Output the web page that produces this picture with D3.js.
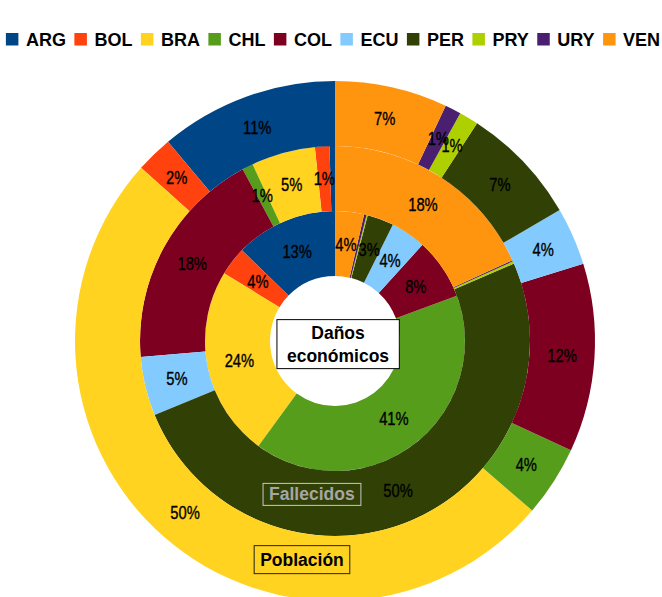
<!DOCTYPE html>
<html>
<head>
<meta charset="utf-8">
<script src="https://cdn.jsdelivr.net/npm/d3@7"></script>
<style>
  body { margin: 0; background: #fff; }
  svg { display: block; }
</style>
</head>
<body>
<svg width="662" height="597"></svg>
<script>
// paises (orden del grafico)
let paises = ["ARG", "BOL", "BRA", "CHL", "COL", "ECU", "PER", "PRY", "URY", "VEN"];
let colores = ["#004586", "#ff420e", "#ffd320", "#579d1c", "#7e0021", "#83caff", "#314004", "#aecf00", "#4b1f6f", "#ff950e"];

// porcentajes
let danos_economicos = [12.7, 3.6, 23.7, 40.7, 7.6, 4.4, 3.3, 0.15, 0.3, 3.6];
let fallecidos = [0.45, 1.2, 5.3, 0.9, 18.45, 4.9, 50.3, 0.2, 0.1, 18.2];
let poblacion = [11.1, 2.3, 50.3, 4.4, 11.7, 3.6, 7.4, 1.2, 1.0, 7.0];

let series = [
  {nombre: "Daños económicos", valores: danos_economicos},
  {nombre: "Fallecidos", valores: fallecidos},
  {nombre: "Población", valores: poblacion}
];

let svg = d3.select("svg");
let cx = 335, cy = 341;
let r_hueco = 65, ancho_anillo = 65;

let fill = d3.scaleOrdinal().domain(paises).range(colores);

let pie = d3.pie()
  .sort(null)
  .value(d => d.valor)
  .startAngle(0)
  .endAngle(-2 * Math.PI);

let chart = svg.append("g").attr("transform", "translate(" + cx + "," + cy + ")");

series.forEach((s, i) => {
  let arc = d3.arc()
    .innerRadius(r_hueco + i * ancho_anillo)
    .outerRadius(r_hueco + (i + 1) * ancho_anillo);

  let total = d3.sum(s.valores);
  let datos = pie(paises.map((p, j) => ({pais: p, valor: s.valores[j]})));

  let anillo = chart.append("g").attr("class", "anillo");

  anillo.selectAll("path")
    .data(datos)
    .join("path")
      .attr("d", arc)
      .attr("fill", d => fill(d.data.pais));

  // etiquetas estrechas (no hay Liberation Sans Narrow, se comprime)
  anillo.selectAll("text")
    .data(datos.filter(d => d.data.valor / total * 100 >= 0.5))
    .join("text")
      .attr("transform", d => "translate(" + arc.centroid(d) + ") scale(0.82,1)")
      .attr("text-anchor", "middle")
      .attr("dy", "0.36em")
      .attr("font-family", "'Liberation Sans', Arial, sans-serif")
      .attr("font-size", 18)
      .attr("fill", "#000")
      .attr("stroke", "#000")
      .attr("stroke-width", 0.35)
      .text(d => Math.round(d.data.valor / total * 100) + "%");
});

// etiquetas de las series
function etiqueta_serie(nombre, lineas, x, y, estilo) {
  let g = chart.append("g").attr("transform", "translate(" + x + "," + y + ")");
  let t = g.append("text")
    .attr("text-anchor", "middle")
    .attr("font-family", "'Liberation Sans', Arial, sans-serif")
    .attr("font-weight", "bold")
    .attr("font-size", 17.5)
    .attr("fill", estilo.texto);
  lineas.forEach((l, i) => {
    t.append("tspan")
      .attr("x", 0)
      .attr("y", (i - (lineas.length - 1) / 2) * 23)
      .attr("dy", "0.35em")
      .text(l);
  });
  let bb = t.node().getBBox();
  g.insert("rect", "text")
    .attr("x", bb.x - estilo.px)
    .attr("y", bb.y - estilo.py)
    .attr("width", bb.width + 2 * estilo.px)
    .attr("height", bb.height + 2 * estilo.py)
    .attr("fill", estilo.fondo)
    .attr("stroke", estilo.borde)
    .attr("stroke-width", 1);
}

let ang_etiqueta = Math.PI + 0.15;

etiqueta_serie(series[0].nombre, ["Daños", "económicos"], 3, 3,
  {texto: "#000", borde: "#000", fondo: "#fff", px: 10, py: 3});
etiqueta_serie(series[1].nombre, [series[1].nombre],
  Math.sin(ang_etiqueta) * 155, -Math.cos(ang_etiqueta) * 155,
  {texto: "#a6a6a6", borde: "#c8c8c8", fondo: "none", px: 6, py: 1});
etiqueta_serie(series[2].nombre, [series[2].nombre],
  Math.sin(ang_etiqueta) * 221, -Math.cos(ang_etiqueta) * 221,
  {texto: "#000", borde: "#222", fondo: "none", px: 6, py: 4});

// leyenda
let leyenda = svg.append("g").attr("class", "leyenda");
let lado = 12.5, sep_texto = 7.5, sep_item = 8.5;
let x_actual = 0;
paises.forEach(p => {
  let item = leyenda.append("g").attr("transform", "translate(" + x_actual + ",0)");
  item.append("rect")
    .attr("x", 0).attr("y", 33)
    .attr("width", lado).attr("height", lado)
    .attr("fill", fill(p));
  let t = item.append("text")
    .attr("x", lado + sep_texto)
    .attr("y", 46)
    .attr("font-family", "'Liberation Sans', Arial, sans-serif")
    .attr("font-weight", "bold")
    .attr("font-size", 18)
    .text(p);
  x_actual += lado + sep_texto + t.node().getComputedTextLength() + sep_item;
});
let ancho_leyenda = x_actual - sep_item;
leyenda.attr("transform", "translate(" + ((662 - ancho_leyenda) / 2 + 2) + ",0)");
</script>
</body>
</html>
